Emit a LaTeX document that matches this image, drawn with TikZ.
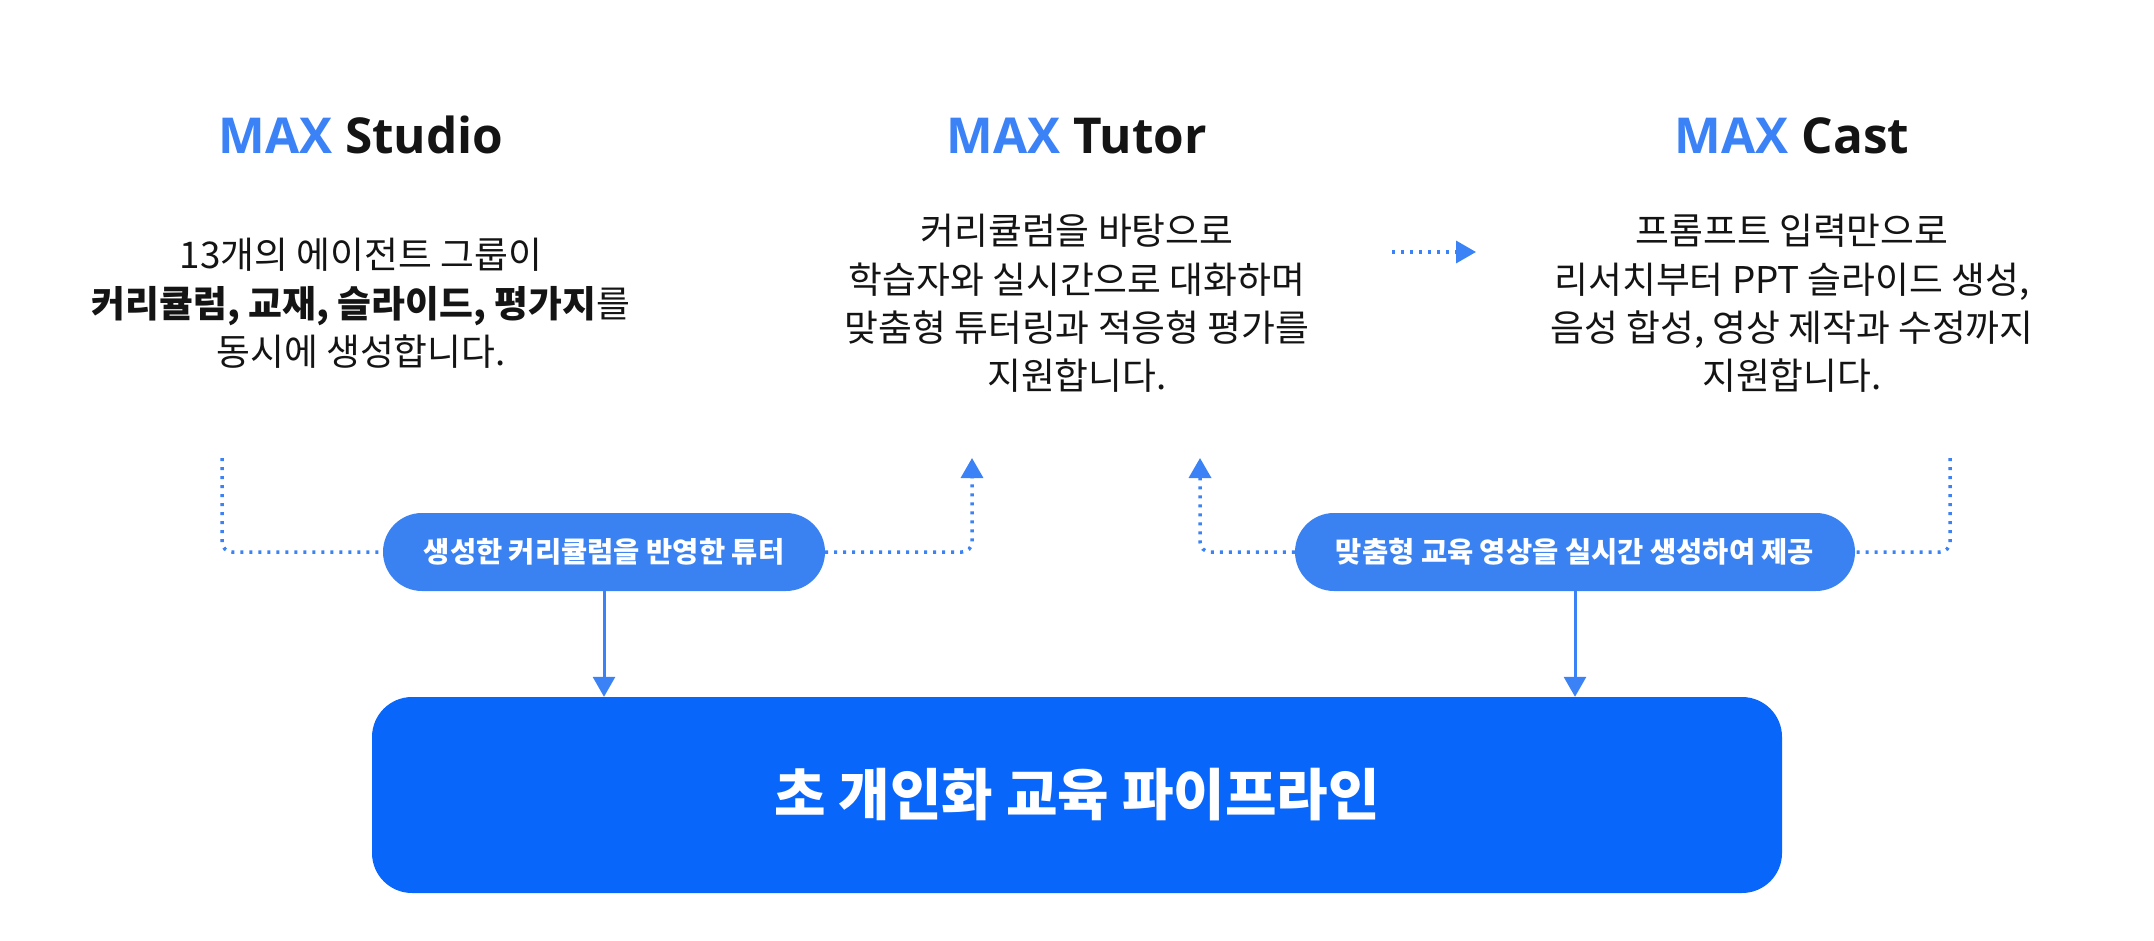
\documentclass[tikz,border=0pt]{standalone}
\usepackage{fontspec}
\setmainfont{Noto Sans CJK KR}
\newfontfamily\titlefont{Open Sans}
\usetikzlibrary{arrows.meta}
\definecolor{maxblue}{HTML}{3B82F6}
\definecolor{pillblue}{HTML}{3A82F2}
\definecolor{boxblue}{HTML}{0867FA}
\definecolor{ink}{HTML}{141414}
\begin{document}
\begin{tikzpicture}[x=1pt,y=-1pt,
  title/.style={anchor=base, font=\titlefont\fontsize{49.5}{58}\selectfont\bfseries, text=ink, inner sep=0pt},
  body/.style={anchor=base, font=\fontsize{36.8}{48}\selectfont, text=ink, inner sep=0pt},
  pill/.style={fill=pillblue, rounded corners=39pt, minimum height=78pt, text=white, font=\fontsize{28.5}{32}\selectfont\bfseries, inner sep=0pt},
  mainbox/.style={fill=boxblue, rounded corners=40pt, minimum width=1410pt, minimum height=196pt, text=white, font=\fontsize{56}{64}\selectfont\bfseries, inner sep=0pt},
  dotline/.style={draw=maxblue, line width=3.5pt, dash pattern=on 3pt off 6pt, rounded corners=10pt},
  solidarrow/.style={draw=maxblue, line width=3pt, -{Triangle[length=20pt,width=22pt]}},
  tipend/.style={-{Triangle[length=20pt,width=22pt]}}
]
\useasboundingbox (0,0) rectangle (2154,941);

% titles
\node[title] (tS) at (361,154) {\textcolor{maxblue}{MAX} Studio};
\node[title] (tT) at (1077,154) {\textcolor{maxblue}{MAX} Tutor};
\node[title] (tC) at (1792,154) {\textcolor{maxblue}{MAX} Cast};

% Studio body
\node[body] (s1) at (361,269) {13개의 에이전트 그룹이};
\node[body] (s2) at (361,317) {\textbf{커리큘럼, 교재, 슬라이드, 평가지}를};
\node[body] (s3) at (361,365) {동시에 생성합니다.};

% Tutor body
\node[body] (u1) at (1077,245) {커리큘럼을 바탕으로};
\node[body] (u2) at (1077,293) {학습자와 실시간으로 대화하며};
\node[body] (u3) at (1077,341) {맞춤형 튜터링과 적응형 평가를};
\node[body] (u4) at (1077,389) {지원합니다.};

% Cast body
\node[body] (c1) at (1792,245) {프롬프트 입력만으로};
\node[body] (c2) at (1792,293) {리서치부터 PPT 슬라이드 생성,};
\node[body] (c3) at (1792,341) {음성 합성, 영상 제작과 수정까지};
\node[body] (c4) at (1792,389) {지원합니다.};

% pills and main box
\node[pill, minimum width=442pt] (p1) at (604,552) {생성한 커리큘럼을 반영한 튜터};
\node[pill, minimum width=560pt] (p2) at (1575,552) {맞춤형 교육 영상을 실시간 생성하여 제공};
\node[mainbox] (box) at (1077,795) {초 개인화 교육 파이프라인};

% free ends
\coordinate (sTop) at (222,458);
\coordinate (tTipL) at (972,458);
\coordinate (tTipR) at (1200,458);
\coordinate (cTop) at (1950,458);
\coordinate (hA) at (1392,252);
\coordinate (hB) at (1476,252);

% connectors
\draw[dotline] (sTop) |- (p1.west);
\draw[dotline, tipend] (p1.east) -| (tTipL);
\draw[dotline, tipend] (p2.west) -| (tTipR);
\draw[dotline] (cTop) |- (p2.east);
\draw[dotline, tipend] (hA) -- (hB);
\draw[solidarrow] (p1.south) -- (p1.south |- box.north);
\draw[solidarrow] (p2.south) -- (p2.south |- box.north);
\end{tikzpicture}
\end{document}
